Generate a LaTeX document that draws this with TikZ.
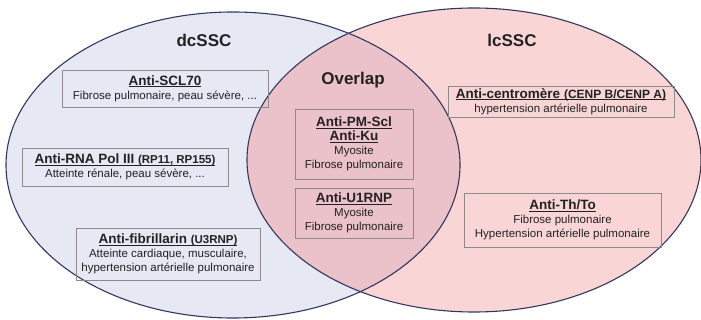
\documentclass[tikz,border=0pt]{standalone}
\usepackage{fontspec}
\setmainfont{Liberation Sans}
\definecolor{leftfill}{HTML}{E6E9F3}
\definecolor{rightfill}{HTML}{F9D5D6}
\definecolor{overfill}{HTML}{EBC2CA}
\definecolor{rim}{HTML}{33375F}
\definecolor{boxline}{HTML}{8E8A8C}
\definecolor{ink}{HTML}{222222}
\newcommand{\hdr}[1]{{\fontsize{13.5}{15}\selectfont\bfseries\underline{\raisebox{0pt}[\height][0pt]{#1}}}}
\newcommand{\sml}[1]{{\fontsize{11.5}{12}\selectfont #1}}
\begin{document}
\begin{tikzpicture}[x=1pt,y=-1pt,
  infobox/.style={draw=boxline, line width=0.8pt, rectangle, align=center, inner sep=1pt,
    text=ink, font=\fontsize{11.5}{14}\selectfont},
  title/.style={text=ink, font=\fontsize{17}{20}\selectfont\bfseries},
  rimline/.style={draw=rim, line width=1.1pt}]
\useasboundingbox (0,0) rectangle (701,320);
\fill[leftfill] (233,165) ellipse [x radius=227pt, y radius=153pt];
\fill[rightfill] (474,160) ellipse [x radius=227pt, y radius=152pt];
\begin{scope}
  \clip (233,165) ellipse [x radius=227pt, y radius=153pt];
  \fill[overfill] (474,160) ellipse [x radius=227pt, y radius=152pt];
\end{scope}
\draw[rimline] (233,165) ellipse [x radius=227pt, y radius=153pt];
\draw[rimline] (474,160) ellipse [x radius=227pt, y radius=152pt];

\node[title] (dc) at (204,40) {dcSSC};
\node[title] (lc) at (512,40) {lcSSC};
\node[title] (ov) at (353,80) {Overlap};

\node[infobox, minimum width=206pt, minimum height=37pt] (scl) at (165,88.5)
  {\hdr{Anti-SCL70}\\ Fibrose pulmonaire, peau sévère, ...};
\node[infobox, minimum width=206pt, minimum height=38pt] (rna) at (125,167)
  {\hdr{Anti-RNA Pol III \sml{(RP11, RP155)}}\\ Atteinte rénale, peau sévère, ...};
\node[infobox, minimum width=184pt, minimum height=52pt] (fib) at (168,254)
  {\hdr{Anti-fibrillarin \sml{(U3RNP)}}\\ Atteinte cardiaque, musculaire,\\ hypertension artérielle pulmonaire};
\node[infobox, minimum width=118pt, minimum height=70pt] (pm) at (354,144)
  {\hdr{Anti-PM-Scl}\\ \hdr{Anti-Ku}\\ Myosite\\ Fibrose pulmonaire};
\node[infobox, minimum width=118pt, minimum height=50pt] (u1) at (354,213)
  {\hdr{Anti-U1RNP}\\ Myosite\\ Fibrose pulmonaire};
\node[infobox, minimum width=226pt, minimum height=31pt] (cen) at (561,101.5)
  {\hdr{Anti-centromère {\fontsize{12}{13}\selectfont(CENP B/CENP A)}}\\ hypertension artérielle pulmonaire};
\node[infobox, minimum width=197pt, minimum height=54pt] (th) at (562.5,220)
  {\hdr{Anti-Th/To}\\ Fibrose pulmonaire\\ Hypertension artérielle pulmonaire};
\end{tikzpicture}
\end{document}
